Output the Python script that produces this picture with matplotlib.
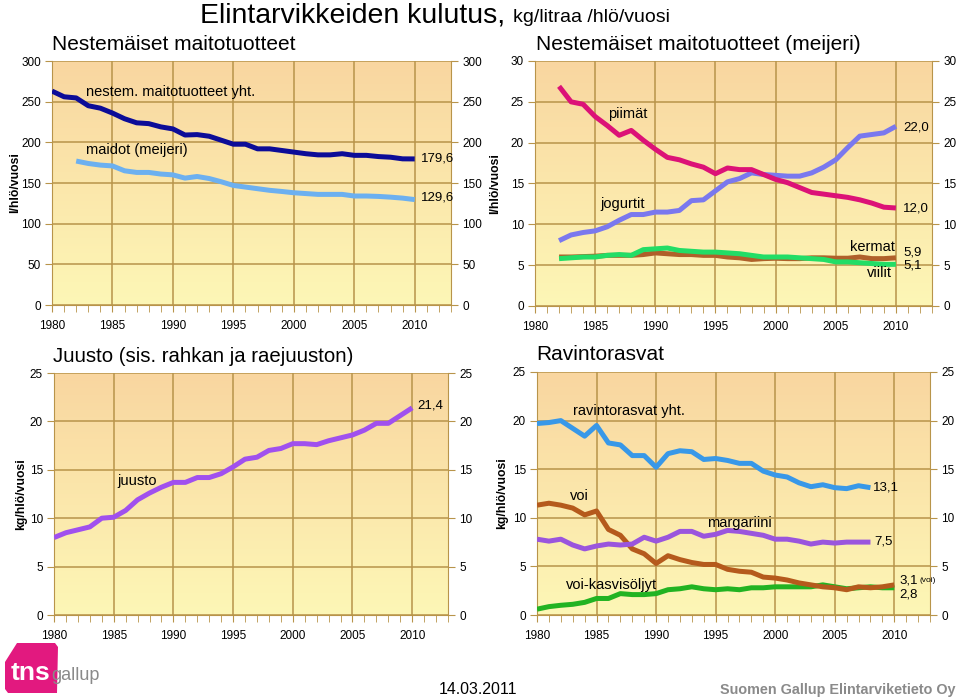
import numpy as np
import matplotlib

matplotlib.use("Agg")
import matplotlib.pyplot as plt
from matplotlib.patches import Polygon
from matplotlib.ticker import MultipleLocator

plt.rcParams["font.family"] = ["Liberation Sans", "DejaVu Sans"]

YEARS = np.arange(1980, 2011)
YEARS_82 = np.arange(1982, 2011)
YEARS_RAV = np.arange(1980, 2009)

# Nestemäiset maitotuotteet, l/hlö/vuosi
maito_yht = [263, 256, 254.6, 245, 242, 236, 229, 224, 223, 219, 216.5, 209, 209.5, 207.5,
             202.6, 197.7, 197.7, 192, 192, 190, 188, 186, 184.6, 184.6, 186, 184, 184,
             182.5, 181.7, 179.7, 179.6]
maidot = [177, 174, 172, 171, 165, 163, 163, 161, 160, 156, 158, 155.5, 151.5, 147, 145,
          143, 141, 139.6, 138, 137, 136, 136, 136, 134, 134, 133.5, 132.6, 131.4, 129.6]

# Nestemäiset maitotuotteet (meijeri), l/hlö/vuosi, 1982-2010
piimat = [26.9, 25.0, 24.7, 23.2, 22.1, 20.9, 21.5, 20.3, 19.2, 18.2, 17.9, 17.4, 17.0, 16.2,
          16.9, 16.7, 16.7, 16.1, 15.5, 15.1, 14.5, 13.9, 13.7, 13.5, 13.3, 13.0, 12.6, 12.1, 12.0]
jogurtit = [8.0, 8.7, 9.0, 9.2, 9.7, 10.5, 11.2, 11.2, 11.5, 11.5, 11.7, 12.9, 13.0, 14.1,
            15.2, 15.6, 16.3, 16.1, 16.0, 15.9, 15.9, 16.3, 17.0, 17.9, 19.4, 20.8, 21.0, 21.2, 22.0]
kermat = [6.0, 6.0, 6.05, 6.1, 6.2, 6.2, 6.2, 6.3, 6.5, 6.4, 6.3, 6.3, 6.2, 6.2, 6.0, 5.9,
          5.7, 5.8, 5.85, 5.8, 5.8, 5.9, 5.9, 5.85, 5.85, 6.0, 5.8, 5.8, 5.9]
viilit = [5.8, 5.9, 6.0, 6.0, 6.2, 6.3, 6.2, 6.9, 7.0, 7.1, 6.8, 6.7, 6.6, 6.6, 6.5, 6.4,
          6.2, 6.0, 6.0, 6.0, 5.9, 5.8, 5.7, 5.4, 5.4, 5.3, 5.2, 5.1, 5.1]

# Juusto, kg/hlö/vuosi
juusto = [8.0, 8.5, 8.8, 9.1, 10.0, 10.1, 10.8, 11.9, 12.6, 13.2, 13.7, 13.7, 14.2, 14.2,
          14.6, 15.3, 16.1, 16.3, 17.0, 17.2, 17.7, 17.7, 17.6, 18.0, 18.3, 18.6, 19.1,
          19.8, 19.8, 20.6, 21.4]

# Ravintorasvat, kg/hlö/vuosi
rasvat_yht = [19.7, 19.8, 20.0, 19.2, 18.4, 19.5, 17.7, 17.5, 16.4, 16.4, 15.2, 16.6, 16.9,
              16.8, 16.0, 16.1, 15.9, 15.6, 15.6, 14.8, 14.4, 14.2, 13.6, 13.2, 13.4, 13.1,
              13.0, 13.3, 13.1]
voi = [11.3, 11.5, 11.3, 11.0, 10.3, 10.7, 8.8, 8.2, 6.8, 6.3, 5.3, 6.1, 5.7, 5.4, 5.2, 5.2,
       4.7, 4.5, 4.4, 3.9, 3.8, 3.6, 3.3, 3.1, 2.9, 2.8, 2.6, 2.9, 2.8, 2.9, 3.1]
margariini = [7.8, 7.6, 7.8, 7.2, 6.8, 7.1, 7.3, 7.2, 7.3, 8.0, 7.6, 8.0, 8.6, 8.6, 8.1, 8.3,
              8.7, 8.6, 8.4, 8.2, 7.8, 7.8, 7.6, 7.3, 7.5, 7.4, 7.5, 7.5, 7.5]
voi_kasvis = [0.6, 0.86, 1.0, 1.1, 1.3, 1.7, 1.7, 2.2, 2.1, 2.1, 2.2, 2.6, 2.7, 2.9, 2.7, 2.6,
              2.7, 2.6, 2.8, 2.8, 2.9, 2.9, 2.9, 2.9, 3.1, 2.9, 2.7, 2.8, 2.9, 2.8, 2.8]

W, H = 960, 699
GRID = "#b8944a"
LW = 3.6
LBL = 10.5   # series names
VAL = 9.5    # end values


def px(x, y):
    return x / W, 1 - y / H


def panel(rect, ymax, ystep, ylabel, label_x):
    ax = fig.add_axes(rect)
    grad = np.linspace(0, 1, 256)[:, None]
    top = np.array([249, 214, 160]) / 255
    bot = np.array([253, 247, 182]) / 255
    img = top[None, None, :] * (1 - grad[:, :, None]) + bot[None, None, :] * grad[:, :, None]
    ax.imshow(img, extent=[0, 1, 0, 1], transform=ax.transAxes, aspect="auto", zorder=0)
    ax.set_xlim(1980, 2013)
    ax.set_ylim(0, ymax)
    ax.xaxis.set_major_locator(MultipleLocator(5))
    ax.xaxis.set_minor_locator(MultipleLocator(1))
    ax.yaxis.set_major_locator(MultipleLocator(ystep))
    ax.grid(True, which="major", color=GRID, lw=1.1, zorder=1)
    ax.set_axisbelow(True)
    for s in ax.spines.values():
        s.set_color(GRID)
    ax.spines["top"].set_visible(False)
    ax.tick_params(which="both", direction="out", color=GRID, labelsize=8.5,
                   right=True, labelright=True, length=5, pad=3)
    ax.tick_params(axis="x", which="major", pad=6)
    ax.set_xticks(range(1980, 2011, 5))
    ax.set_ylabel(ylabel, fontsize=8.8, fontweight="bold")
    ax.yaxis.set_label_coords(label_x, 0.5)
    return ax


def line(ax, x, y, color):
    ax.plot(x, y, color=color, lw=LW, solid_capstyle="butt", zorder=3)


fig = plt.figure(figsize=(9.6, 6.99), dpi=100)

# top-left
ax1 = panel([52 / W, 1 - 305 / H, 399 / W, 244 / H], 300, 50, "l/hlö/vuosi", -0.078)
line(ax1, YEARS_82, maidot, "#6cb0f0")
line(ax1, YEARS, maito_yht, "#0c0c98")
ax1.text(1982.8, 262, "nestem. maitotuotteet yht.", fontsize=LBL, va="center")
ax1.text(1982.8, 190, "maidot (meijeri)", fontsize=LBL, va="center")
ax1.text(2010.5, maito_yht[-1], "179,6", fontsize=VAL, va="center")
ax1.text(2010.5, maidot[-1] + 3, "129,6", fontsize=VAL, va="center")

# top-right
ax2 = panel([535 / W, 1 - 306 / H, 397 / W, 245 / H], 30, 5, "l/hlö/vuosi", -0.086)
line(ax2, YEARS_82, kermat, "#b0602a")
line(ax2, YEARS_82, viilit, "#22dd66")
line(ax2, YEARS_82, jogurtit, "#7a78ee")
line(ax2, YEARS_82, piimat, "#dc1277")
ax2.text(1986.1, 23.5, "piimät", fontsize=LBL, va="center")
ax2.text(1985.4, 12.5, "jogurtit", fontsize=LBL, va="center")
ax2.text(2009.9, 7.2, "kermat", fontsize=LBL, va="center", ha="right")
ax2.text(2009.7, 4.0, "viilit", fontsize=LBL, va="center", ha="right")
ax2.text(2010.6, 21.9, "22,0", fontsize=VAL, va="center")
ax2.text(2010.6, 11.9, "12,0", fontsize=VAL, va="center")
ax2.text(2010.6, 6.55, "5,9", fontsize=VAL, va="center")
ax2.text(2010.6, 5.0, "5,1", fontsize=VAL, va="center")

# bottom-left
ax3 = panel([54 / W, 1 - 615 / H, 394 / W, 242 / H], 25, 5, "kg/hlö/vuosi", -0.069)
line(ax3, YEARS, juusto, "#a050ee")
ax3.text(1985.3, 13.8, "juusto", fontsize=LBL, va="center")
ax3.text(2010.4, 21.6, "21,4", fontsize=VAL, va="center")

# bottom-right
ax4 = panel([537 / W, 1 - 615 / H, 393 / W, 243 / H], 25, 5, "kg/hlö/vuosi", -0.074)
line(ax4, YEARS, voi_kasvis, "#22b322")
line(ax4, YEARS, voi, "#b55a1c")
line(ax4, YEARS_RAV, margariini, "#9a55dd")
line(ax4, YEARS_RAV, rasvat_yht, "#3898e8")
ax4.text(1983.0, 21.0, "ravintorasvat yht.", fontsize=LBL, va="center")
ax4.text(1982.8, 12.2, "voi", fontsize=LBL, va="center")
ax4.text(1994.3, 9.5, "margariini", fontsize=LBL, va="center")
ax4.text(1982.4, 3.1, "voi-kasvisöljyt", fontsize=LBL, va="center")
ax4.text(2008.2, 13.1, "13,1", fontsize=VAL, va="center")
ax4.text(2008.3, 7.6, "7,5", fontsize=VAL, va="center")
ax4.text(2010.4, 3.6, "3,1", fontsize=VAL, va="center")
ax4.text(2012.1, 3.5, "(voi)", fontsize=6, va="center")
ax4.text(2010.4, 2.1, "2,8", fontsize=VAL, va="center")

# titles
fig.text(*px(200, 15), "Elintarvikkeiden kulutus,", fontsize=20.5, va="center")
fig.text(*px(513, 18), "kg/litraa /hlö/vuosi", fontsize=14, va="center")
fig.text(*px(52, 44), "Nestemäiset maitotuotteet", fontsize=15, va="center")
fig.text(*px(536, 44), "Nestemäiset maitotuotteet (meijeri)", fontsize=15, va="center")
fig.text(*px(53, 357), "Juusto (sis. rahkan ja raejuuston)", fontsize=14.7, va="center")
fig.text(*px(536, 354), "Ravintorasvat", fontsize=15, va="center")

# footer
fig.text(*px(478, 690), "14.03.2011", fontsize=11.4, va="center", ha="center")
fig.text(*px(955, 690), "Suomen Gallup Elintarviketieto Oy", fontsize=10.4, va="center",
         ha="right", color="#8a8a8a", fontweight="bold")

logo = [(17, 643), (55, 643), (58, 647), (57, 693), (8, 693), (5, 689), (5, 662)]
fig.patches.append(Polygon([px(x, y) for x, y in logo], closed=True, transform=fig.transFigure,
                           facecolor="#e2197f", edgecolor="none"))
fig.text(*px(11, 673), "tns", fontsize=19, fontweight="bold", color="white", va="center")
fig.text(*px(51, 676), "gallup", fontsize=13, color="#8a8a8a", va="center")

fig.savefig("out.png", dpi=100)
